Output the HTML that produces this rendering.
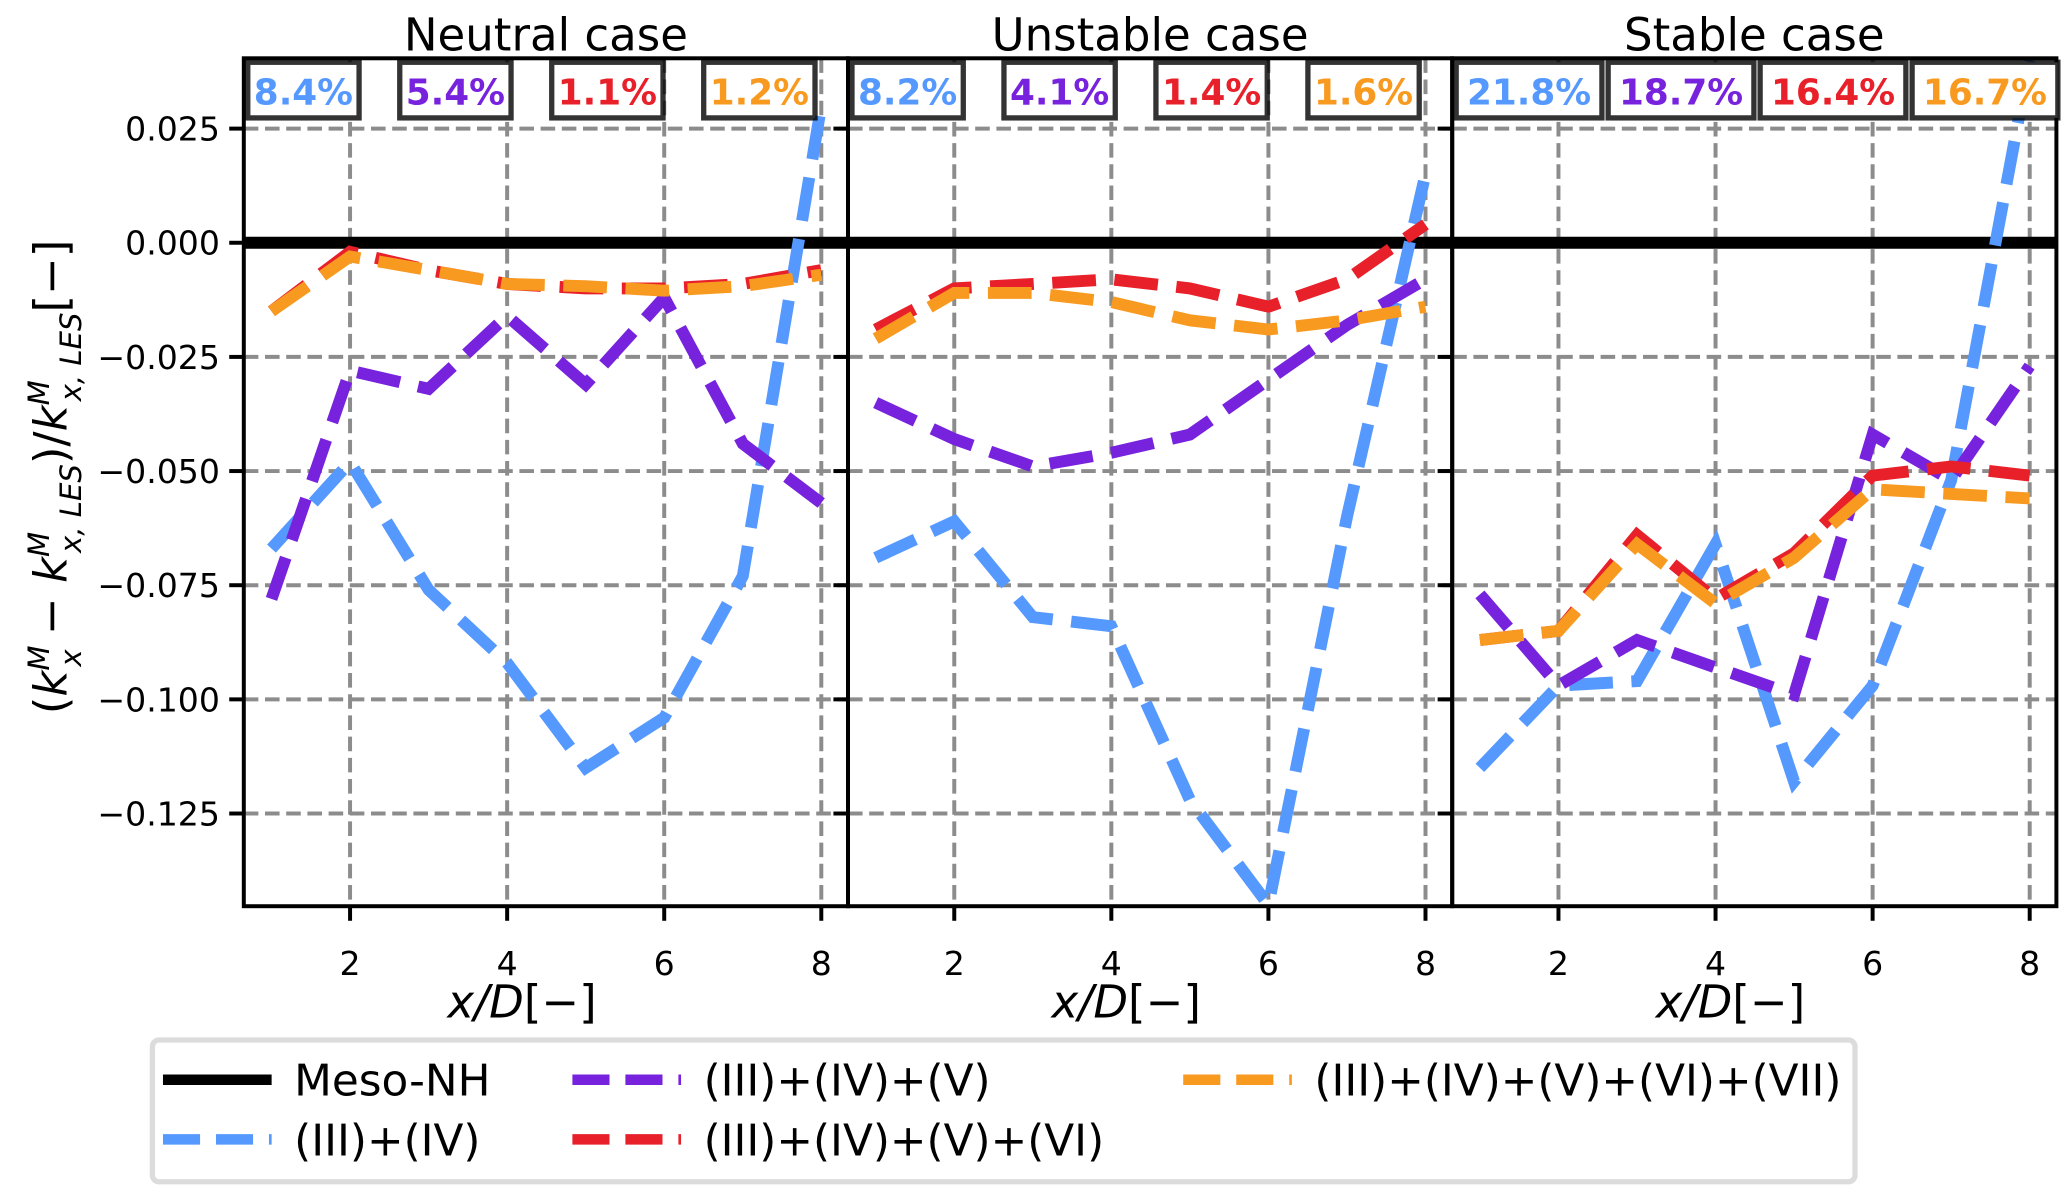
<!DOCTYPE html>
<html><head><meta charset="utf-8"><style>
html,body{margin:0;padding:0;background:#fff;}
svg{display:block;}
text{font-family:"DejaVu Sans","Liberation Sans",sans-serif;}
</style></head><body>
<svg id="chart" width="2067" height="1199" viewBox="0 0 1560 905" preserveAspectRatio="none" xmlns="http://www.w3.org/2000/svg"></svg>
<script>
const xs = [1,2,3,4,5,6,7,8];
const panelTitles = ["Neutral case","Unstable case","Stable case"];
const seriesNames = ["(III)+(IV)","(III)+(IV)+(V)","(III)+(IV)+(V)+(VI)","(III)+(IV)+(V)+(VI)+(VII)"];
const seriesColors = ["#5599ff","#7722dd","#e8202a","#f89a20"];
const neutralBlue = [-0.067,-0.048,-0.076,-0.092,-0.115,-0.104,-0.073,0.030];
const neutralPurple = [-0.078,-0.028,-0.032,-0.016,-0.031,-0.012,-0.044,-0.057];
const neutralRed = [-0.015,-0.002,-0.006,-0.009,-0.010,-0.010,-0.009,-0.006];
const neutralOrange = [-0.015,-0.003,-0.006,-0.009,-0.0095,-0.0105,-0.0095,-0.007];
const unstableBlue = [-0.069,-0.061,-0.082,-0.084,-0.122,-0.145,-0.060,0.015];
const unstablePurple = [-0.035,-0.043,-0.049,-0.046,-0.042,-0.030,-0.018,-0.008];
const unstableRed = [-0.019,-0.010,-0.009,-0.008,-0.010,-0.014,-0.008,0.004];
const unstableOrange = [-0.021,-0.011,-0.011,-0.013,-0.017,-0.019,-0.017,-0.014];
const stableBlue = [-0.115,-0.097,-0.096,-0.066,-0.118,-0.097,-0.052,0.040];
const stablePurple = [-0.077,-0.097,-0.087,-0.093,-0.099,-0.042,-0.052,-0.027];
const stableRed = [-0.087,-0.085,-0.064,-0.078,-0.068,-0.051,-0.049,-0.051];
const stableOrange = [-0.087,-0.085,-0.066,-0.079,-0.069,-0.054,-0.055,-0.056];
const neutralPct = ["8.4%","5.4%","1.1%","1.2%"];
const unstablePct = ["8.2%","4.1%","1.4%","1.6%"];
const stablePct = ["21.8%","18.7%","16.4%","16.7%"];
const yTicks = [0.025,0,-0.025,-0.05,-0.075,-0.1,-0.125];
const yTickLabels = ["0.025","0.000","\u22120.025","\u22120.050","\u22120.075","\u22120.100","\u22120.125"];
const xTicks = [2,4,6,8];

const panels = [
 {key:"neutral", series:[neutralBlue,neutralPurple,neutralRed,neutralOrange], pct:neutralPct},
 {key:"unstable", series:[unstableBlue,unstablePurple,unstableRed,unstableOrange], pct:unstablePct},
 {key:"stable", series:[stableBlue,stablePurple,stableRed,stableOrange], pct:stablePct}
];
const NS="http://www.w3.org/2000/svg";
const svg=document.getElementById('chart');
function mk(tag,attrs,parent){const e=document.createElementNS(NS,tag);for(const k in attrs)e.setAttribute(k,attrs[k]);(parent||svg).appendChild(e);return e;}
const axTop=44,axBot=684,pw=456,left0=184;
const yMin=-0.1453,yMax=0.0404,xMin=0.647,xMax=8.34;
const DASH='33 14', GRIDDASH='11 5';
function yS(v){return axBot-(v-yMin)/(yMax-yMin)*(axBot-axTop);}
function xS(p,v){return left0+p*pw+(v-xMin)/(xMax-xMin)*pw;}
const defs=mk('defs',{});
panels.forEach((P,p)=>{
  const L=left0+p*pw;
  const cp=mk('clipPath',{id:'clip'+p},defs);
  mk('rect',{x:L,y:axTop,width:pw,height:axBot-axTop},cp);
  const g=mk('g',{});
  
  
  xTicks.forEach(t=>{const l=mk('line',{x1:xS(p,t),x2:xS(p,t),y1:axTop,y2:axBot,stroke:'#8c8c8c','stroke-width':3,'stroke-dasharray':GRIDDASH},g);
    
    });
  yTicks.forEach(t=>{const l=mk('line',{x1:L,x2:L+pw,y1:yS(t),y2:yS(t),stroke:'#8c8c8c','stroke-width':3,'stroke-dasharray':GRIDDASH},g);
    
    });
  const z=mk('line',{x1:L,x2:L+pw,y1:yS(0),y2:yS(0),stroke:'#000','stroke-width':9},g);
  
  
  const sg=mk('g',{'clip-path':'url(#clip'+p+')'},g);
  P.series.forEach((arr,s)=>{
    const pts=arr.map((v,i)=>xS(p,xs[i]).toFixed(1)+','+yS(v).toFixed(1)).join(' ');
    const pl=mk('polyline',{points:pts,fill:'none',stroke:seriesColors[s],'stroke-width':9,'stroke-dasharray':DASH},sg);
    
    
  });
  const fr=mk('rect',{x:L,y:axTop,width:pw,height:axBot-axTop,fill:'none',stroke:'#000','stroke-width':3},g);
  
  
  yTicks.forEach(t=>{mk('line',{x1:L-11,x2:L,y1:yS(t),y2:yS(t),stroke:'#000','stroke-width':3},g);});
  const tt=mk('text',{x:L+pw/2,y:38,'text-anchor':'middle','font-size':34},g);
  tt.textContent=panelTitles[p];
  
  
  xTicks.forEach(t=>{mk('line',{x1:xS(p,t),x2:xS(p,t),y1:axBot,y2:axBot+11,stroke:'#000','stroke-width':3},g);
    const tl=mk('text',{x:xS(p,t),y:axBot+52,'text-anchor':'middle','font-size':25},g);tl.textContent=t;
    
    });
  const xl=mk('text',{x:L+pw/2-18,y:768,'text-anchor':'middle','font-size':34},g);
  xl.innerHTML='<tspan font-style="italic">x/D</tspan>[\u2212]';
  
  
  P.pct.forEach((t,s)=>{
    const w = t.length>4 ? 110 : 84;
    const bxL = L+3+s*114.7;
    const bx=mk('g',{},g);
    
    
    mk('rect',{x:bxL,y:47,width:w,height:42,fill:'#fff',stroke:'#000','stroke-opacity':0.8,'stroke-width':4},bx);
    const tx=mk('text',{x:bxL+w/2,y:79,'text-anchor':'middle','font-size':27,'font-weight':'bold',fill:seriesColors[s]},bx);
    tx.textContent=t;
  });
});
yTicks.forEach((t,i)=>{
  const tl=mk('text',{x:left0-18,y:yS(t)+9,'text-anchor':'end','font-size':25});tl.textContent=yTickLabels[i];
  
  });
const yl=mk('text',{transform:'translate(50,360) rotate(-90)','text-anchor':'middle','font-size':34});
yl.innerHTML='(<tspan font-style="italic">k</tspan><tspan dy="-13" font-size="22" font-style="italic">M</tspan><tspan dx="-16" dy="24" font-size="22" font-style="italic">x</tspan><tspan dy="-11"> \u2212 </tspan><tspan font-style="italic">k</tspan><tspan dy="-13" font-size="22" font-style="italic">M</tspan><tspan dx="-16" dy="24" font-size="22" font-style="italic">x, LES</tspan><tspan dy="-11">)/</tspan><tspan font-style="italic">k</tspan><tspan dy="-13" font-size="22" font-style="italic">M</tspan><tspan dx="-16" dy="24" font-size="22" font-style="italic">x, LES</tspan><tspan dy="-11">[\u2212]</tspan>';


const lg=mk('g',{});


mk('rect',{x:115,y:785,width:1285,height:107,rx:5,fill:'#fff',stroke:'#dcdcdc','stroke-width':4},lg);
const legItems=[
 {name:'Meso-NH',color:'#000',dash:null,x:123,y:815},
 {name:seriesNames[0],color:seriesColors[0],dash:'28 12',x:123,y:860},
 {name:seriesNames[1],color:seriesColors[1],dash:'28 12',x:432,y:815},
 {name:seriesNames[2],color:seriesColors[2],dash:'28 12',x:432,y:860},
 {name:seriesNames[3],color:seriesColors[3],dash:'28 12',x:893,y:815}];
legItems.forEach(it=>{
  const e=mk('g',{},lg);
  
  
  const a={x1:it.x,x2:it.x+82,y1:it.y,y2:it.y,stroke:it.color,'stroke-width':8};
  if(it.dash)a['stroke-dasharray']=it.dash;
  mk('line',a,e);
  const t=mk('text',{x:it.x+99,y:it.y+12,'font-size':33},e);t.textContent=it.name;
});
</script>
</body></html>
